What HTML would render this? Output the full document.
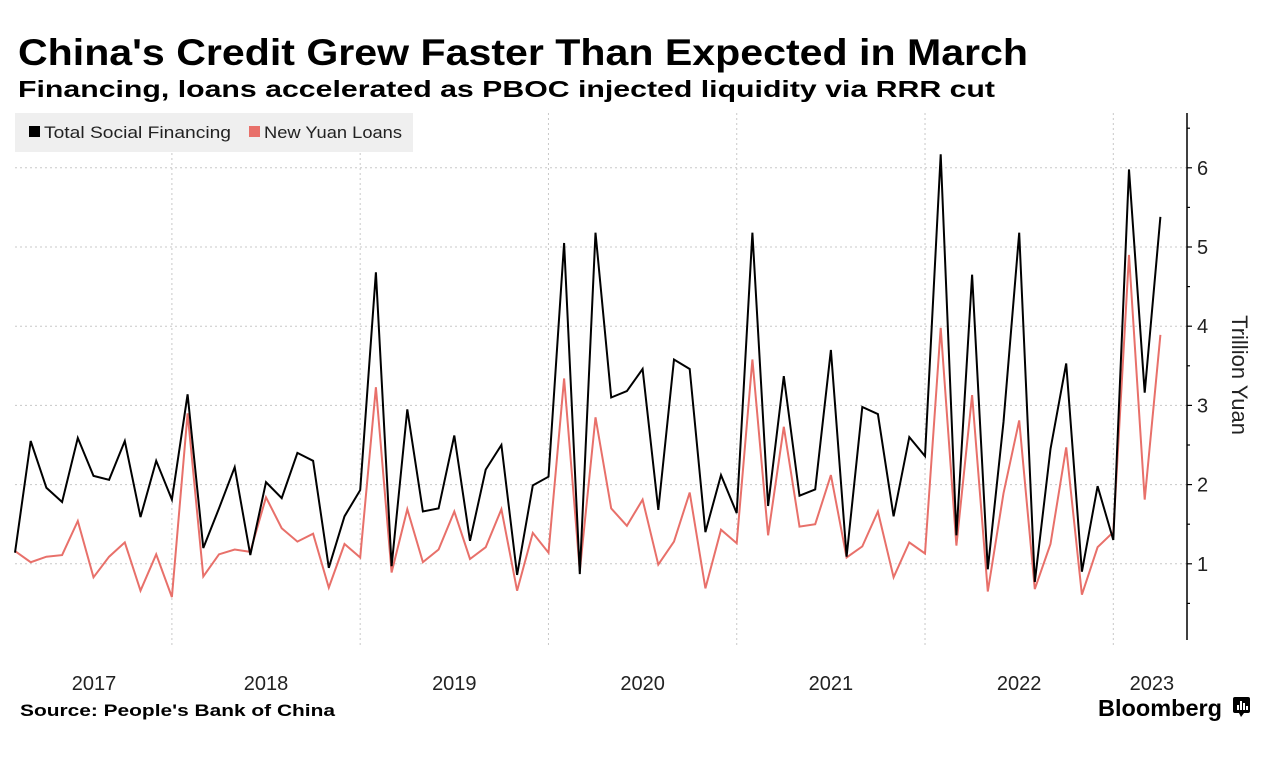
<!DOCTYPE html>
<html><head><meta charset="utf-8"><style>
html,body{margin:0;padding:0;background:#fff;}
svg{display:block;font-family:"Liberation Sans",sans-serif;}
</style></head><body>
<svg id="chart" width="1280" height="774" viewBox="0 0 1280 774" xmlns="http://www.w3.org/2000/svg">
<text x="18" y="65" font-size="37" font-weight="bold" fill="#000" textLength="1010" lengthAdjust="spacingAndGlyphs">China's Credit Grew Faster Than Expected in March</text>
<text x="18" y="97" font-size="23" font-weight="bold" fill="#000" textLength="977" lengthAdjust="spacingAndGlyphs">Financing, loans accelerated as PBOC injected liquidity via RRR cut</text>
<g id="grid"></g>
<g>
<rect x="15" y="113" width="398" height="39" fill="#efefef"/>
<rect x="29" y="126" width="11" height="11" fill="#000"/>
<text x="44" y="138" font-size="17" fill="#222" textLength="187" lengthAdjust="spacingAndGlyphs">Total Social Financing</text>
<rect x="249" y="126" width="11" height="11" fill="#e8706a"/>
<text x="264" y="138" font-size="17" fill="#222" textLength="138" lengthAdjust="spacingAndGlyphs">New Yuan Loans</text>
</g>
<g id="series"></g>
<g id="axis"></g>
<text transform="translate(1232,375) rotate(90)" text-anchor="middle" font-size="22" fill="#222">Trillion Yuan</text>
<text x="20" y="716" font-size="17" font-weight="bold" fill="#000" textLength="315" lengthAdjust="spacingAndGlyphs">Source: People's Bank of China</text>
<text x="1098" y="716" font-size="23" font-weight="bold" fill="#000" textLength="124" lengthAdjust="spacingAndGlyphs">Bloomberg</text>
<g>
<rect x="1233" y="697" width="17" height="16" rx="2" fill="#000"/>
<polygon points="1239,713 1244,713 1241,717" fill="#000"/>
<rect x="1237" y="705" width="2" height="5" fill="#fff"/><rect x="1240" y="701" width="2" height="9" fill="#fff"/><rect x="1243" y="703" width="2" height="7" fill="#fff"/><rect x="1246" y="706" width="2" height="4" fill="#fff"/>
</g>
</svg>
<script>
const tsf = [1.14,2.55,1.96,1.78,2.59,2.11,2.06,2.55,1.59,2.30,1.81,
3.14,1.20,1.70,2.22,1.11,2.03,1.83,2.40,2.30,0.95,1.60,1.93,
4.68,0.97,2.95,1.66,1.70,2.62,1.29,2.19,2.50,0.86,1.99,2.10,
5.05,0.87,5.18,3.10,3.18,3.46,1.68,3.58,3.46,1.40,2.12,1.64,
5.18,1.73,3.37,1.86,1.94,3.70,1.09,2.98,2.89,1.60,2.60,2.36,
6.17,1.36,4.65,0.93,2.79,5.18,0.77,2.45,3.53,0.90,1.98,1.30,
5.98,3.16,5.38];
const loans = [1.16,1.02,1.09,1.11,1.54,0.83,1.09,1.27,0.66,1.12,0.58,
2.90,0.84,1.12,1.18,1.15,1.84,1.45,1.28,1.38,0.70,1.25,1.08,
3.23,0.89,1.69,1.02,1.18,1.66,1.06,1.21,1.69,0.66,1.39,1.14,
3.34,0.91,2.85,1.70,1.48,1.81,0.99,1.28,1.90,0.69,1.43,1.26,
3.58,1.36,2.73,1.47,1.50,2.12,1.08,1.22,1.66,0.83,1.27,1.13,
3.98,1.23,3.13,0.65,1.89,2.81,0.68,1.25,2.47,0.61,1.21,1.40,
4.90,1.81,3.89];
const yTicks = [1,2,3,4,5,6];
const yearLabels = ["2017","2018","2019","2020","2021","2022","2023"];
const yearStartIdx = [-1,11,23,35,47,59,71];

const NS="http://www.w3.org/2000/svg";
const x0=15, dx=15.69, yZero=643, yUnit=79.2, plotTop=113, plotBottom=640, axisX=1187;
function xs(i){return x0+i*dx;}
function ys(v){return yZero-v*yUnit;}
function mk(tag,attrs,parent){const e=document.createElementNS(NS,tag);for(const k in attrs)e.setAttribute(k,attrs[k]);parent.appendChild(e);return e;}
const grid=document.getElementById('grid'), series=document.getElementById('series'), axis=document.getElementById('axis');

yTicks.forEach(t=>{
  const l=mk('line',{x1:15,x2:axisX,y1:ys(t),y2:ys(t),stroke:'#c8c8c8','stroke-width':1,'stroke-dasharray':'2,3'},grid);
  
  
});
yearStartIdx.forEach((s,k)=>{
  if(k>0){
    const gx=xs(s-1);
    const l=mk('line',{x1:gx,x2:gx,y1:plotTop,y2:648,stroke:'#c8c8c8','stroke-width':1,'stroke-dasharray':'2,3'},grid);
    
    
  }
  const a = k===0 ? x0 : xs(s-1);
  const b = k+1<yearStartIdx.length ? xs(yearStartIdx[k+1]-1) : xs(tsf.length-1);
  const cx = k===yearStartIdx.length-1 ? (a+b)/2+15 : (k===0 ? 94 : (a+b)/2);
  const t=mk('text',{x:cx,y:690,'text-anchor':'middle','font-size':20,fill:'#222'},axis);
  t.textContent=yearLabels[k];
  
  
});

function line(data,color,name){
  const p=mk('polyline',{points:data.map((v,i)=>xs(i).toFixed(1)+','+ys(v).toFixed(1)).join(' '),fill:'none',stroke:color,'stroke-width':2,'stroke-linejoin':'miter'},series);
  
  
}
line(loans,'#e8706a','new-yuan-loans-line');
line(tsf,'#000','total-social-financing-line');

const ax=mk('line',{x1:axisX,x2:axisX,y1:plotTop,y2:plotBottom,stroke:'#000','stroke-width':1.5},axis);


for(let v=0.5;v<=6.5;v+=0.5){
  const isMaj=Number.isInteger(v);
  const tk=mk('line',{x1:axisX,x2:axisX+(isMaj?5:3),y1:ys(v),y2:ys(v),stroke:'#000','stroke-width':1.2},axis);
  
  
}
yTicks.forEach(t=>{
  const tx=mk('text',{x:1197,y:ys(t)+7,'font-size':20,fill:'#222'},axis);
  tx.textContent=t;
  
  
});
</script>
</body></html>
